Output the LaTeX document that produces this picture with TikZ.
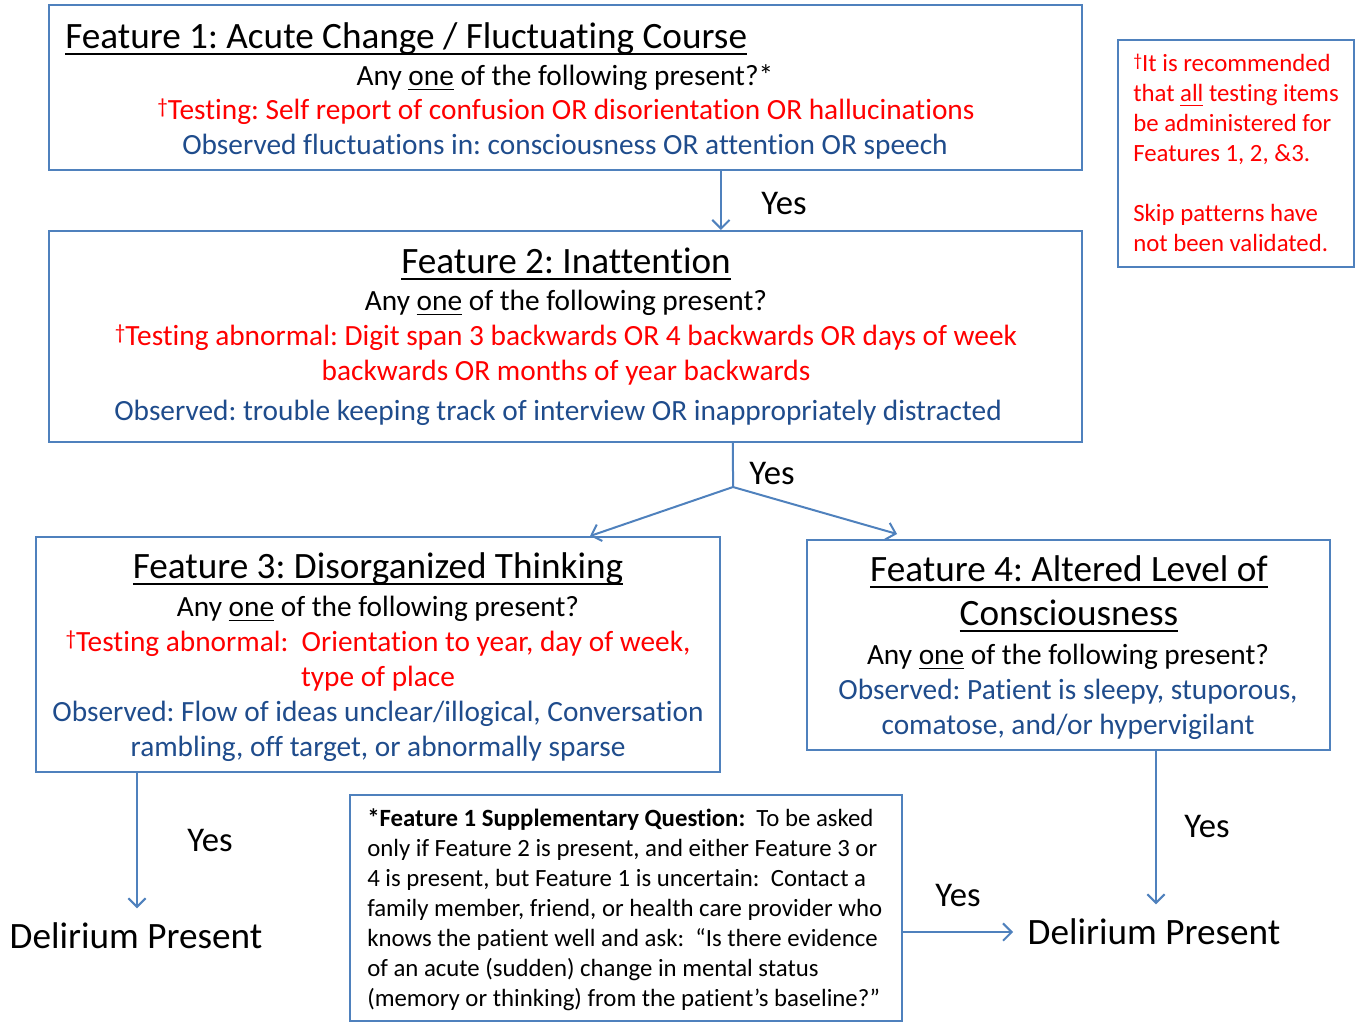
\documentclass[tikz,border=0pt]{standalone}
\usepackage{fontspec}
\setmainfont{Carlito}[Ligatures=NoCommon]
\usetikzlibrary{arrows.meta,fit,calc}
\definecolor{bord}{RGB}{79,129,189}
\definecolor{tred}{RGB}{255,0,0}
\definecolor{tblue}{RGB}{31,76,140}
\newsavebox\ulbx
\newcommand\ulTitle[1]{\sbox\ulbx{#1}\rlap{\rule[-5pt]{\wd\ulbx}{1.4pt}}\usebox\ulbx}
\newcommand\ulBody[1]{\sbox\ulbx{#1}\rlap{\rule[-4pt]{\wd\ulbx}{1.1pt}}\usebox\ulbx}
\newcommand\dg{\raisebox{0.2em}{\scalebox{0.72}{†}}}
\frenchspacing
\begin{document}
\begin{tikzpicture}[x=0.75pt,y=-0.75pt,
 box/.style={draw=bord,line width=1.5pt,inner sep=0pt},
 ttl/.style={font=\fontsize{27.9}{32}\selectfont,inner sep=0pt,anchor=base},
 bod/.style={font=\fontsize{22}{26}\selectfont,inner sep=0pt,anchor=base},
 sml/.style={font=\fontsize{18.6}{22.5}\selectfont,inner sep=0pt,anchor=base west},
 rd/.style={text=tred}, bl/.style={text=tblue},
 arr/.style={draw=bord,line width=1.5pt,-{Straight Barb[length=6.5pt,width=13pt]}},
 lnk/.style={draw=bord,line width=1.5pt},
 yes/.style={font=\fontsize{26}{30}\selectfont,inner sep=0pt},
 dlr/.style={font=\fontsize{27.9}{32}\selectfont,inner sep=0pt,outer sep=11pt}]
\path[use as bounding box] (0,0) rectangle (1355,1022);
% boxes
\node[box,fit={(49,5) (1082,170)}] (b1) {};
\node[box,fit={(49,231) (1082,442)}] (b2) {};
\node[box,fit={(36,537) (720,772)}] (b3) {};
\node[box,fit={(807,540) (1330,750)}] (b4) {};
\node[box,fit={(350,795) (902,1021)}] (b5) {};
\node[box,fit={(1118,40) (1354,267)}] (b6) {};
% box 1
\node[ttl,anchor=base west] (t1) at (65,48) {\ulTitle{Feature 1: Acute Change / Fluctuating Course}};
\node[bod] (q1) at (565,85) {Any \ulBody{one} of the following present?*};
\node[bod,rd] (r1) at (566,119) {\dg Testing: Self report of confusion OR disorientation OR hallucinations};
\node[bod,bl] (o1) at (565,154) {Observed fluctuations in: consciousness OR attention OR speech};
% box 2
\node[ttl] (t2) at (566,273) {\ulTitle{Feature 2: Inattention}};
\node[bod] (q2) at (566,310) {Any \ulBody{one} of the following present?};
\node[bod,rd] (r2a) at (566,345) {\dg Testing abnormal: Digit span 3 backwards OR 4 backwards OR days of week};
\node[bod,rd] (r2b) at (566,380) {backwards OR months of year backwards};
\node[bod,bl] (o2) at (558,420) {Observed: trouble keeping track of interview OR inappropriately distracted};
% box 3
\node[ttl] (t3) at (378,578) {\ulTitle{Feature 3: Disorganized Thinking}};
\node[bod] (q3) at (378,616) {Any \ulBody{one} of the following present?};
\node[bod,rd] (r3a) at (378,651) {\dg Testing abnormal:\ \ Orientation to year, day of week,};
\node[bod,rd] (r3b) at (378,686) {type of place};
\node[bod,bl] (o3a) at (378,721) {Observed: Flow of ideas unclear/illogical, Conversation};
\node[bod,bl] (o3b) at (378,756) {rambling, off target, or abnormally sparse};
% box 4
\node[ttl] (t4a) at (1069,581) {\ulTitle{Feature 4: Altered Level of}};
\node[ttl] (t4b) at (1069,625) {\ulTitle{Consciousness}};
\node[bod] (q4) at (1068,664) {Any \ulBody{one} of the following present?};
\node[bod,bl] (o4a) at (1068,699) {Observed: Patient is sleepy, stuporous,};
\node[bod,bl] (o4b) at (1068,734) {comatose, and/or hypervigilant};
% box 5
\node[sml] (s1) at (367,826) {\textbf{*Feature 1 Supplementary Question:}\ \ To be asked};
\node[sml] (s2) at (367,856) {only if Feature 2 is present, and either Feature 3 or};
\node[sml] (s3) at (367,886) {4 is present, but Feature 1 is uncertain:\ \ Contact a};
\node[sml] (s4) at (367,916) {family member, friend, or health care provider who};
\node[sml] (s5) at (367,946) {knows the patient well and ask:\ \ “Is there evidence};
\node[sml] (s6) at (367,976) {of an acute (sudden) change in mental status};
\node[sml] (s7) at (367,1006) {(memory or thinking) from the patient’s baseline?”};
% note box
\node[sml,rd] (n1) at (1133,71) {\dg It is recommended};
\node[sml,rd] (n2) at (1133,101) {that \ulBody{all} testing items};
\node[sml,rd] (n3) at (1133,131) {be administered for};
\node[sml,rd] (n4) at (1133,161) {Features 1, 2, \&3.};
\node[sml,rd] (n5) at (1133,221) {Skip patterns have};
\node[sml,rd] (n6) at (1133,251) {not been validated.};
% outcomes
\node[dlr] (d1) at (136,936) {Delirium Present};
\node[dlr] (d2) at (1154,932) {Delirium Present};
% yes labels
\node[yes] (y1) at (784,203) {Yes};
\node[yes] (y2) at (772,473) {Yes};
\node[yes] (y3) at (210,840) {Yes};
\node[yes] (y4) at (1207,826) {Yes};
\node[yes] (y5) at (958,895) {Yes};
% connectors
\draw[arr] ([xshift=116.6pt]b1.south) -- ([xshift=116.6pt]b2.north);
\coordinate (j) at (733,487);
\draw[lnk] ([xshift=125.6pt]b2.south) -- (j);
\draw[arr] (j) -- ([xshift=159pt]b3.north);
\draw[arr] (j) -- ([xshift=-128.6pt,yshift=3.75pt]b4.north);
\coordinate (p3) at ([xshift=-180.75pt]b3.south);
\draw[arr] (p3) -- (p3 |- d1.north);
\coordinate (p4) at ([xshift=65.6pt]b4.south);
\draw[arr] (p4) -- (p4 |- d2.north);
\draw[arr] (b5.east |- d2.west) -- (d2.west);
\end{tikzpicture}
\end{document}
